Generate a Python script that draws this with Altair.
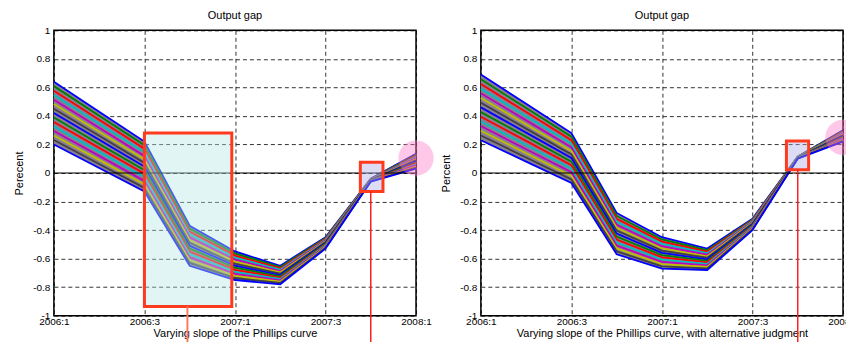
import altair as alt
import pandas as pd

# ---------------- data ----------------
quarters = [0, 1, 2, 3, 4, 5, 6, 7, 8]
tick_pos = [0, 2, 4, 6, 8]
tick_labels = ["2006:1", "2006:3", "2007:1", "2007:3", "2008:1"]
y_ticks = [-1, -0.8, -0.6, -0.4, -0.2, 0, 0.2, 0.4, 0.6, 0.8, 1]

# Left panel: output gap of each of the 15 scenarios (slopes), per quarter
left_q0 = [0.640, 0.609, 0.577, 0.546, 0.514, 0.483, 0.451, 0.420, 0.389, 0.357, 0.326, 0.294, 0.263, 0.231, 0.200]
left_q1 = [0.430, 0.402, 0.374, 0.345, 0.317, 0.289, 0.261, 0.233, 0.204, 0.176, 0.148, 0.120, 0.092, 0.063, 0.035]
left_q2 = [0.220, 0.195, 0.170, 0.145, 0.120, 0.095, 0.070, 0.045, 0.020, -0.005, -0.030, -0.055, -0.080, -0.105, -0.130]
left_q3 = [-0.370, -0.390, -0.410, -0.430, -0.450, -0.470, -0.490, -0.510, -0.530, -0.550, -0.570, -0.590, -0.610, -0.630, -0.650]
left_q4 = [-0.550, -0.564, -0.579, -0.593, -0.607, -0.621, -0.636, -0.650, -0.664, -0.679, -0.693, -0.707, -0.721, -0.736, -0.750]
left_q5 = [-0.650, -0.659, -0.669, -0.678, -0.687, -0.696, -0.706, -0.715, -0.724, -0.734, -0.743, -0.752, -0.761, -0.771, -0.780]
left_q6 = [-0.450, -0.456, -0.461, -0.467, -0.473, -0.479, -0.484, -0.490, -0.496, -0.501, -0.507, -0.513, -0.519, -0.524, -0.530]
left_q7 = [-0.040, -0.041, -0.043, -0.044, -0.046, -0.047, -0.049, -0.050, -0.051, -0.053, -0.054, -0.056, -0.057, -0.059, -0.060]
left_q8 = [0.135, 0.128, 0.120, 0.113, 0.105, 0.098, 0.090, 0.083, 0.075, 0.068, 0.060, 0.053, 0.045, 0.038, 0.030]

# Right panel: same scenarios with alternative judgment
right_q0 = [0.690, 0.657, 0.624, 0.591, 0.559, 0.526, 0.493, 0.460, 0.427, 0.394, 0.361, 0.329, 0.296, 0.263, 0.230]
right_q1 = [0.485, 0.456, 0.427, 0.398, 0.369, 0.340, 0.311, 0.283, 0.254, 0.225, 0.196, 0.167, 0.138, 0.109, 0.080]
right_q2 = [0.280, 0.255, 0.230, 0.205, 0.180, 0.155, 0.130, 0.105, 0.080, 0.055, 0.030, 0.005, -0.020, -0.045, -0.070]
right_q3 = [-0.280, -0.301, -0.321, -0.342, -0.363, -0.384, -0.404, -0.425, -0.446, -0.466, -0.487, -0.508, -0.529, -0.549, -0.570]
right_q4 = [-0.450, -0.466, -0.481, -0.497, -0.513, -0.529, -0.544, -0.560, -0.576, -0.591, -0.607, -0.623, -0.639, -0.654, -0.670]
right_q5 = [-0.530, -0.541, -0.551, -0.562, -0.573, -0.584, -0.594, -0.605, -0.616, -0.626, -0.637, -0.648, -0.659, -0.669, -0.680]
right_q6 = [-0.320, -0.326, -0.331, -0.337, -0.343, -0.349, -0.354, -0.360, -0.366, -0.371, -0.377, -0.383, -0.389, -0.394, -0.400]
right_q7 = [0.115, 0.114, 0.113, 0.112, 0.111, 0.110, 0.109, 0.108, 0.107, 0.106, 0.105, 0.104, 0.103, 0.102, 0.101]
right_q8 = [0.300, 0.294, 0.289, 0.283, 0.277, 0.271, 0.266, 0.260, 0.254, 0.249, 0.243, 0.237, 0.231, 0.226, 0.220]

left_cols = [left_q0, left_q1, left_q2, left_q3, left_q4, left_q5, left_q6, left_q7, left_q8]
right_cols = [right_q0, right_q1, right_q2, right_q3, right_q4, right_q5, right_q6, right_q7, right_q8]

# annotation boxes (quarter from, quarter to, value top, value bottom)
left_big_box = [2.0, 3.93, 0.28, -0.935]
left_small_box = [6.77, 7.27, 0.075, -0.13]
right_small_box = [6.75, 7.24, 0.225, 0.023]
# highlighted end points (quarter, value)
left_circle = [8, 0.105]
right_circle = [8, 0.25]
# pointer lines below boxes (quarter, value at box bottom)
left_big_pointer = [2.95, -0.935]
left_small_pointer = [7.0, -0.13]
right_small_pointer = [7.0, 0.023]

# ---------------- styling ----------------
FONT = "Liberation Sans"
LINE_COLORS = ["#0000FF", "#008000", "#FF0000", "#00BFBF", "#BF00BF", "#BFBF00", "#404040"]
W, H = 363, 286

labels_js = "[" + ",".join("'%s'" % s for s in tick_labels) + "]"
x_label_expr = "%s[indexof(%s, datum.value)]" % (labels_js, str(tick_pos))


def panel(cols, ytitle, xtitle, boxes, circle, pointers):
    n = len(cols[0])
    rows = [{"q": q, "k": k, "v": v} for q, col in enumerate(cols) for k, v in enumerate(col)]
    df = pd.DataFrame(rows)
    env = pd.DataFrame({"q": quarters, "v": [c[0] for c in cols], "v2": [c[-1] for c in cols]})

    x = alt.X("q:Q", scale=alt.Scale(domain=[0, 8], nice=False, zero=False),
              axis=alt.Axis(values=tick_pos, labelExpr=x_label_expr, title=xtitle, grid=True,
                            labelFlush=False, labelPadding=1, titlePadding=1))
    y = alt.Y("v:Q", scale=alt.Scale(domain=[-1, 1], nice=False, zero=False),
              axis=alt.Axis(values=y_ticks, labelExpr="'' + datum.value", title=ytitle, grid=True,
                            labelPadding=4, titlePadding=8))

    area = alt.Chart(env).mark_area(color="#8a7d94", opacity=1).encode(x=x, y=y, y2="v2:Q")

    palette = [LINE_COLORS[i % len(LINE_COLORS)] for i in range(n)]
    lines = alt.Chart(df).mark_line(strokeWidth=1.8).encode(
        x=x, y=y,
        color=alt.Color("k:N", scale=alt.Scale(domain=list(range(n)), range=palette), legend=None),
        detail="k:N",
    )

    zero = alt.Chart(pd.DataFrame({"v": [0]})).mark_rule(color="black", strokeWidth=1).encode(y=y)

    layers = [area, lines, zero]
    for (bx, fill) in boxes:
        bdf = pd.DataFrame({"q": [bx[0]], "q2": [bx[1]], "v": [bx[2]], "v2": [bx[3]]})
        layers.append(
            alt.Chart(bdf).mark_rect(fill=fill, fillOpacity=0.4, stroke="#FF3B1F", strokeWidth=3).encode(
                x=x, x2="q2:Q", y=y, y2="v2:Q")
        )
    cdf = pd.DataFrame({"q": [circle[0]], "v": [circle[1]]})
    layers.append(
        alt.Chart(cdf).mark_point(shape="circle", filled=True, size=1250, color="#FF75C5", opacity=0.4).encode(x=x, y=y)
    )
    for (p, col, sw) in pointers:
        pdf = pd.DataFrame({"q": [p[0]], "v": [p[1]]})
        layers.append(
            alt.Chart(pdf).mark_rule(color=col, strokeWidth=sw).encode(x=x, y=y, y2=alt.value(330))
        )

    return alt.layer(*layers).properties(
        width=W, height=H,
        title=alt.TitleParams("Output gap", fontSize=11, fontWeight="normal", font=FONT,
                              color="black", offset=4.5, anchor="middle", frame="group"),
    )


left = panel(left_cols, "Perecent", "Varying slope of the Phillips curve",
             [(left_big_box, "#B4E6E6"), (left_small_box, "#A7A7E6")], left_circle,
             [(left_big_pointer, "#FF7A5C", 2), (left_small_pointer, "#FF2020", 1.5)])
right = panel(right_cols, "Percent", "Varying slope of the Phillips curve, with alternative judgment",
              [(right_small_box, "#A7A7E6")], right_circle,
              [(right_small_pointer, "#FF2020", 1.5)])

chart = alt.hconcat(left, right, spacing=65, bounds="flush").properties(
    padding={"left": 5, "top": 0, "right": -16, "bottom": -20}
).configure(
    font=FONT
).configure_view(
    stroke="black", strokeWidth=1.5
).configure_axis(
    grid=True, gridDash=[4, 3], gridColor="#000000", gridWidth=0.8, gridOpacity=1,
    ticks=False, domain=False,
    labelFont=FONT, labelFontSize=10, labelColor="black",
    titleFont=FONT, titleFontSize=11, titleFontWeight="normal", titleColor="black",
)

chart.save("out.html", embed_options={"renderer": "svg", "actions": False})
